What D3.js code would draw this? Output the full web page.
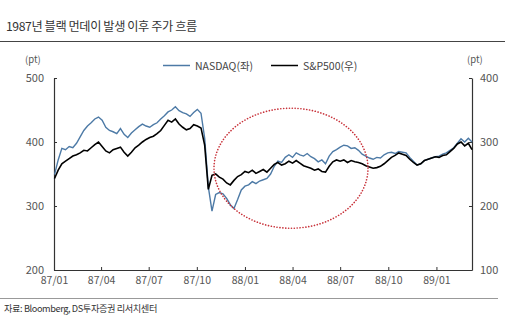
<!DOCTYPE html>
<html><head><meta charset="utf-8">
<script src="https://cdn.jsdelivr.net/npm/d3@7"></script>
<style>
body{margin:0;background:#fff;}
svg{display:block;font-family:"Noto Sans CJK KR","Noto Sans",sans-serif;}
</style></head>
<body>
<svg id="c" width="530" height="331"></svg>
<script>
const title = "1987년 블랙 먼데이 발생 이후 주가 흐름";
const source = "자료: Bloomberg, DS투자증권 리서치센터";
const seriesNames = ["NASDAQ(좌)", "S&P500(우)"];
const startDate = "1987-01-02"; // weekly observations
const nasdaq = [349,372,390,388,393,391,398,408,418,425,430,436,439,434,423,418,416,413,421,412,
407,414,419,424,428,425,423,427,430,436,441,447,450,455,449,446,444,440,446,451,
445,406,330,292,318,321,319,312,302,296,310,325,331,333,338,335,339,341,343,350,
362,370,368,376,380,376,383,380,378,382,377,374,369,372,366,378,385,388,392,395,
394,390,391,387,381,378,375,373,376,375,380,383,384,382,385,384,383,376,370,364,
366,371,373,375,377,378,381,383,387,391,398,405,400,406,400];
const sp500 = [243,256,266,270,274,278,280,283,287,286,291,296,300,293,286,283,288,290,292,284,
278,284,291,295,300,304,307,309,313,318,326,334,331,336,328,323,319,321,327,325,
322,295,226,248,250,245,242,236,233,240,246,249,254,252,256,251,254,257,253,259,
265,268,264,266,270,267,271,267,263,261,259,256,258,254,253,262,269,272,270,272,
268,271,269,268,266,263,261,259,260,262,266,271,276,279,283,281,279,273,268,264,
266,271,273,275,277,276,279,280,285,290,297,300,294,298,288];
const xTicks = ["1987-01-01","1987-04-01","1987-07-01","1987-10-01","1988-01-01","1988-04-01","1988-07-01","1988-10-01","1989-01-01"];
const leftTicks = [200,300,400,500];
const rightTicks = [100,200,300,400];
const xDomain = ["1987-01-01","1989-03-10"];
const highlight = {date:"1988-03-29", value:359};

const svg = d3.select("#c");
const parse = d3.timeParse("%Y-%m-%d");
const d0 = parse(startDate);
const dates = nasdaq.map((_, i) => d3.timeDay.offset(d0, 7 * i));

const L = 54, R = 472, T = 78, B = 270;
const x = d3.scaleTime().domain(xDomain.map(parse)).range([L, R]);
const yL = d3.scaleLinear().domain([200, 500]).range([B, T]);
const yR = d3.scaleLinear().domain([100, 400]).range([B, T]);

// title & rules
svg.append("text").attr("x", 6).attr("y", 31).attr("font-size", 12.2).attr("fill", "#333")
  .attr("letter-spacing", -0.4).text(title);
svg.append("line").attr("x1", 0).attr("x2", 505).attr("y1", 41.5).attr("y2", 41.5).attr("stroke", "#444").attr("stroke-width", 1);
svg.append("line").attr("x1", 0).attr("x2", 498).attr("y1", 298.5).attr("y2", 298.5).attr("stroke", "#999").attr("stroke-width", 1);
svg.append("text").attr("x", 4).attr("y", 312).attr("font-size", 9.2).attr("fill", "#333")
  .attr("letter-spacing", -0.4).text(source);

// axes
const axCol = "#333";
const gx = svg.append("g").attr("transform", `translate(0,${B})`)
  .call(d3.axisBottom(x).tickValues(xTicks.map(parse)).tickFormat(d3.timeFormat("%y/%m")).tickSizeInner(-3).tickSizeOuter(0).tickPadding(8));
const gl = svg.append("g").attr("transform", `translate(${L},0)`)
  .call(d3.axisLeft(yL).tickValues(leftTicks).tickSizeInner(-3).tickSizeOuter(0).tickPadding(10));
const gr = svg.append("g").attr("transform", `translate(${R},0)`)
  .call(d3.axisRight(yR).tickValues(rightTicks).tickSizeInner(-3).tickSizeOuter(0).tickPadding(8));
[gx, gl, gr].forEach(g => {
  g.select(".domain").attr("stroke", axCol).attr("stroke-width", 1.2);
  g.selectAll(".tick line").attr("stroke", axCol);
  g.selectAll(".tick text").attr("fill", "#555").attr("font-size", 11).attr("font-family", "'Noto Sans CJK KR','Noto Sans',sans-serif");
});
gx.selectAll(".tick text").attr("font-size", 10.5).attr("dy", "0.55em");

svg.append("text").attr("x", 25).attr("y", 63).attr("font-size", 9.5).attr("fill", "#555").text("(pt)");
svg.append("text").attr("x", 467).attr("y", 63).attr("font-size", 9.5).attr("fill", "#555").text("(pt)");

// lines
const lineN = d3.line().x((d, i) => x(dates[i])).y(d => yL(d));
const lineS = d3.line().x((d, i) => x(dates[i])).y(d => yR(d));
svg.append("path").datum(nasdaq).attr("d", lineN).attr("fill", "none").attr("stroke", "#4d7aa6").attr("stroke-width", 1.4);
svg.append("path").datum(sp500).attr("d", lineS).attr("fill", "none").attr("stroke", "#000").attr("stroke-width", 1.6);

// highlight ellipse
svg.append("ellipse").attr("cx", x(parse(highlight.date))).attr("cy", yL(highlight.value))
  .attr("rx", 77).attr("ry", 60).attr("fill", "none").attr("stroke", "#c8323a")
  .attr("stroke-width", 1.6).attr("stroke-dasharray", "0.1 2.8").attr("stroke-linecap", "round");

// legend
const leg = [{n: seriesNames[0], c: "#4d7aa6", x: 163}, {n: seriesNames[1], c: "#000", x: 271}];
leg.forEach(l => {
  svg.append("line").attr("x1", l.x).attr("x2", l.x + 27).attr("y1", 65.5).attr("y2", 65.5).attr("stroke", l.c).attr("stroke-width", 1.5);
  svg.append("text").attr("x", l.x + 32).attr("y", 69.5).attr("font-size", 10.5).attr("fill", "#444").text(l.n);
});
</script>
</body></html>
